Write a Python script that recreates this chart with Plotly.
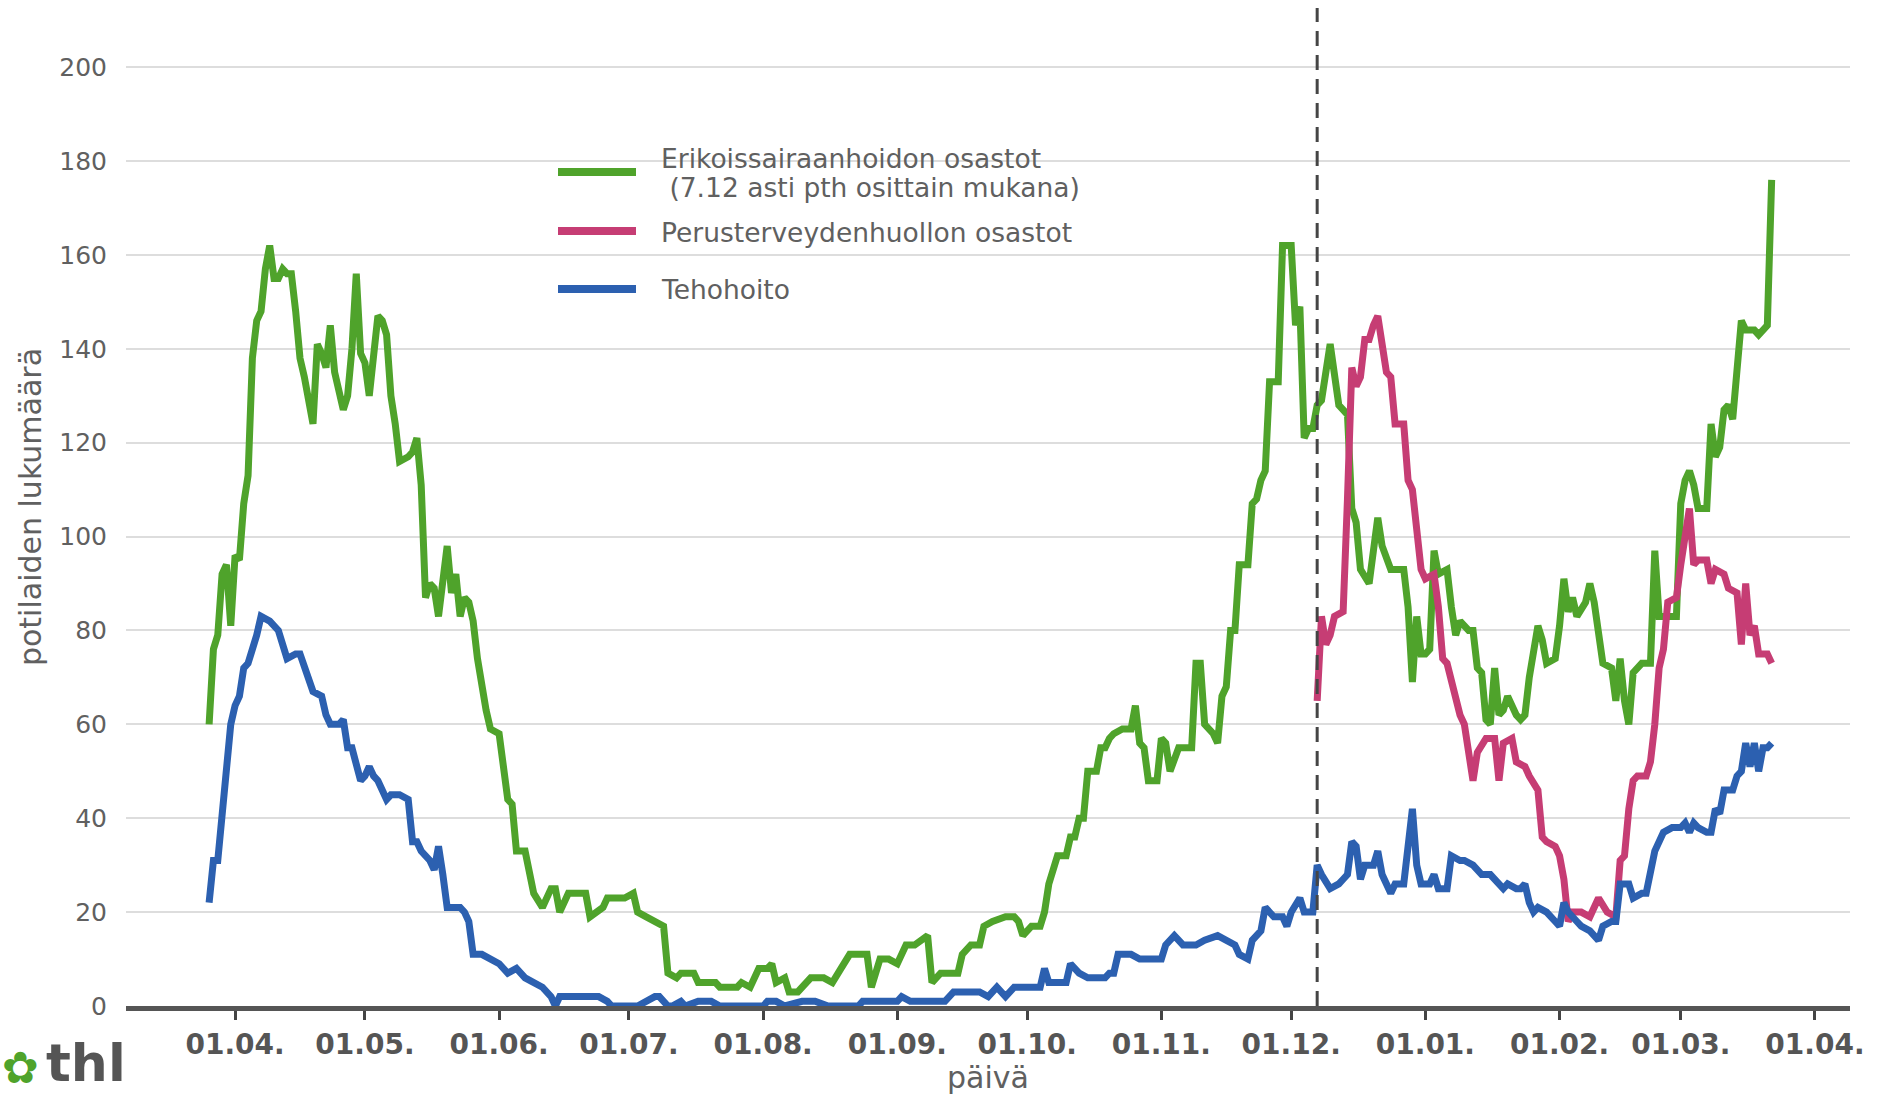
import pandas as pd
import plotly.graph_objects as go

# ---------------- data (days counted from BASE_DATE) ----------------
BASE_DATE = "2020-04-01"
CUTOFF_DATE = "2020-12-07"

series_names = [
    "Erikoissairaanhoidon osastot",
    "Perusterveydenhuollon osastot",
    "Tehohoito",
]
esh_note = "(7.12 asti pth osittain mukana)"

esh_day = [-6, -5, -4, -3, -2, -1, 0, 1, 2, 3, 4, 5, 6, 7, 8, 9, 10, 11, 12, 13, 14, 15, 16, 18, 19, 20, 21, 22, 23, 25,
           26, 27, 28, 29, 30, 31, 33, 34, 35, 36, 37, 38, 40, 41, 42, 43, 44, 45, 46, 47, 49, 50, 51, 52, 53, 54, 55, 56,
           58, 59, 61, 62, 63, 64, 65, 67, 68, 69, 71, 72, 73, 74, 75, 77, 81, 82, 85, 86, 90, 92, 93, 95, 97, 99, 100,
           102, 103, 106, 107, 111, 112, 116, 117, 119, 121, 123, 124, 125, 127, 128, 130, 133, 136, 138, 140, 142, 144,
           146, 147, 149, 151, 153, 155, 157, 160, 161, 163, 167, 168, 170, 172, 173, 175, 178, 180, 181, 182, 184, 186,
           187, 188, 190, 192, 193, 194, 195, 196, 197, 199, 200, 201, 202, 203, 205, 207, 208, 209, 210, 211, 213, 214,
           215, 216, 218, 221, 222, 223, 224, 226, 227, 228, 229, 230, 231, 232, 234, 235, 236, 237, 238, 239, 241, 242,
           244, 245, 246, 247, 248, 249, 250, 251, 253, 255, 256, 257, 258, 259, 260, 262, 263, 264, 265, 267, 270, 271,
           272, 273, 274, 275, 276, 277, 278, 280, 281, 282, 283, 285, 286, 287, 288, 289, 290, 291, 292, 293, 294, 296,
           297, 298, 299, 301, 302, 303, 305, 306, 307, 308, 309, 310, 312, 313, 314, 315, 316, 318, 319, 320, 321, 322,
           323, 325, 327, 328, 329, 331, 333, 334, 335, 336, 337, 338, 340, 341, 342, 343, 344, 345, 346, 348, 349, 351,
           352, 353, 354, 355]
esh_count = [60, 76, 79, 92, 94, 81, 96, 95, 107, 113, 138, 146, 148, 157, 162, 155, 155, 157, 156, 156, 148, 138, 134,
             124, 141, 139, 136, 145, 135, 127, 130, 140, 156, 139, 137, 130, 147, 146, 143, 130, 124, 116, 117, 118, 121,
             111, 87, 90, 89, 83, 98, 88, 92, 83, 87, 86, 82, 74, 63, 59, 58, 50, 44, 43, 33, 33, 28, 24, 21, 23, 25, 25,
             20, 24, 24, 19, 21, 23, 23, 24, 20, 19, 18, 17, 7, 6, 7, 7, 5, 5, 4, 4, 5, 4, 8, 8, 9, 5, 6, 3, 3, 6, 6, 5, 8,
             11, 11, 11, 4, 10, 10, 9, 13, 13, 15, 5, 7, 7, 11, 13, 13, 17, 18, 19, 19, 18, 15, 17, 17, 20, 26, 32, 32, 36,
             36, 40, 40, 50, 50, 55, 55, 57, 58, 59, 59, 64, 56, 55, 48, 48, 57, 56, 50, 55, 55, 73, 73, 60, 58, 56, 66, 68,
             80, 80, 94, 94, 107, 108, 112, 114, 133, 133, 162, 162, 145, 149, 121, 123, 123, 128, 129, 141, 128, 127, 126,
             106, 103, 93, 90, 97, 104, 98, 93, 93, 85, 69, 83, 75, 75, 76, 97, 92, 93, 85, 79, 82, 80, 80, 72, 71, 61, 60,
             72, 62, 63, 66, 62, 61, 62, 70, 81, 78, 73, 74, 81, 91, 84, 87, 83, 86, 90, 86, 79, 73, 72, 65, 74, 65, 60, 71,
             73, 73, 97, 83, 83, 83, 107, 112, 114, 111, 106, 106, 124, 117, 119, 127, 128, 125, 146, 144, 144, 143, 144,
             145, 176]

pth_day = [250, 251, 252, 253, 254, 256, 257, 258, 259, 260, 261, 262, 263, 264, 265, 266, 267, 268, 270, 271, 272, 274,
           275, 277, 278, 279, 280, 282, 283, 284, 285, 286, 287, 289, 291, 292, 293, 295, 296, 298, 299, 301, 302, 303,
           305, 306, 307, 308, 309, 311, 313, 315, 317, 319, 320, 321, 322, 323, 324, 326, 327, 328, 329, 330, 331, 333,
           334, 335, 336, 337, 338, 340, 341, 342, 344, 345, 347, 348, 349, 350, 351, 352, 354, 355]
pth_count = [65, 83, 77, 79, 83, 84, 108, 136, 132, 134, 142, 142, 145, 147, 141, 135, 134, 124, 124, 112, 110, 93, 91,
             92, 85, 74, 73, 66, 62, 60, 54, 48, 54, 57, 57, 48, 56, 57, 52, 51, 49, 46, 36, 35, 34, 32, 27, 18, 20, 20,
             19, 23, 20, 19, 31, 32, 42, 48, 49, 49, 52, 60, 72, 76, 86, 87, 94, 100, 106, 94, 95, 95, 90, 93, 92, 89, 88,
             77, 90, 79, 81, 75, 75, 73]

icu_day = [-6, -5, -4, -3, -2, -1, 0, 1, 2, 3, 5, 6, 8, 9, 10, 12, 14, 15, 17, 18, 20, 21, 22, 24, 25, 26, 27, 29, 30,
           31, 32, 33, 35, 36, 38, 40, 41, 42, 43, 45, 46, 47, 48, 49, 52, 53, 54, 55, 57, 59, 61, 63, 65, 67, 69, 71,
           73, 74, 75, 84, 86, 87, 93, 95, 97, 98, 100, 101, 103, 104, 107, 110, 112, 122, 123, 125, 127, 131, 134, 137,
           144, 145, 153, 154, 156, 164, 166, 172, 174, 176, 178, 180, 186, 187, 188, 192, 193, 195, 197, 201, 202, 203,
           204, 207, 209, 214, 215, 217, 219, 222, 224, 227, 229, 231, 232, 234, 235, 237, 238, 240, 242, 243, 244, 246,
           247, 249, 250, 251, 253, 255, 256, 257, 258, 259, 260, 261, 263, 264, 265, 267, 268, 270, 272, 273, 274, 276,
           277, 278, 280, 281, 283, 284, 286, 288, 290, 291, 293, 294, 296, 297, 298, 299, 300, 301, 303, 305, 306, 307,
           308, 310, 311, 313, 315, 316, 318, 319, 320, 322, 323, 325, 326, 328, 329, 330, 332, 334, 335, 336, 337, 338,
           340, 341, 342, 343, 344, 346, 347, 348, 349, 350, 351, 352, 353, 354, 355]
icu_count = [22, 31, 31, 42, 50, 60, 64, 66, 72, 73, 79, 83, 82, 81, 80, 74, 75, 75, 70, 67, 66, 62, 60, 60, 61, 55, 55,
             48, 49, 51, 49, 48, 44, 45, 45, 44, 35, 35, 33, 31, 29, 34, 28, 21, 21, 20, 18, 11, 11, 10, 9, 7, 8, 6, 5, 4,
             2, 0, 2, 2, 1, 0, 0, 1, 2, 2, 0, 0, 1, 0, 1, 1, 0, 0, 1, 1, 0, 1, 1, 0, 0, 1, 1, 2, 1, 1, 3, 3, 2, 4, 2, 4, 4,
             8, 5, 5, 9, 7, 6, 6, 7, 7, 11, 11, 10, 10, 13, 15, 13, 13, 14, 15, 14, 13, 11, 10, 14, 16, 21, 19, 19, 17, 20,
             23, 20, 20, 30, 28, 25, 26, 27, 28, 35, 34, 27, 30, 30, 33, 28, 24, 26, 26, 42, 30, 26, 26, 28, 25, 25, 32,
             31, 31, 30, 28, 28, 27, 25, 26, 25, 25, 26, 22, 20, 21, 20, 18, 17, 22, 20, 18, 17, 16, 14, 17, 18, 18, 26,
             26, 23, 24, 24, 33, 35, 37, 38, 38, 39, 37, 39, 38, 37, 37, 42, 41, 46, 46, 49, 50, 56, 51, 56, 50, 55, 55,
             56]

y_ticks = [0, 20, 40, 60, 80, 100, 120, 140, 160, 180, 200]

# ---------------- styling ----------------
GREEN = "#4fa32b"
PINK = "#c63d74"
BLUE = "#2c60b0"
TEXT = "#606060"
FONT = "DejaVu Sans"

W, H = 1881, 1095
ML, MR, MT, MB = 126, 31, 8, 89
PW, PH = W - ML - MR, H - MT - MB


def to_dates(days):
    return pd.Timestamp(BASE_DATE) + pd.to_timedelta(days, unit="D")


def px(xp):
    return (xp - ML) / PW


def py(yp):
    return (H - MB - yp) / PH


base = pd.Timestamp(BASE_DATE)
x_range = [base - pd.Timedelta(days=25.2), base + pd.Timedelta(days=373.1)]

fig = go.Figure()
for days, vals, color, name in [
    (esh_day, esh_count, GREEN, series_names[0]),
    (pth_day, pth_count, PINK, series_names[1]),
    (icu_day, icu_count, BLUE, series_names[2]),
]:
    fig.add_trace(go.Scatter(x=to_dates(days), y=vals, mode="lines", name=name,
                             line=dict(color=color, width=7), showlegend=False))

shapes = [
    dict(type="line", xref="x", yref="paper", x0=CUTOFF_DATE, x1=CUTOFF_DATE, y0=0, y1=1,
         line=dict(color="#454545", width=3, dash="15px,9px"), layer="above"),
    # legend background
    dict(type="rect", xref="paper", yref="paper", x0=px(526), x1=px(1105), y0=py(335), y1=py(112),
         fillcolor="white", line=dict(width=0), layer="between"),
]
annotations = []
legend_rows = [(GREEN, 172, 158), (PINK, 231, 232), (BLUE, 289, 290)]
for (color, ly, ty), name in zip(legend_rows, series_names):
    shapes.append(dict(type="line", xref="paper", yref="paper", x0=px(558), x1=px(636), y0=py(ly), y1=py(ly),
                       line=dict(color=color, width=8), layer="above"))
    annotations.append(dict(xref="paper", yref="paper", x=px(659), y=py(ty), xanchor="left", yanchor="middle",
                            text=name, showarrow=False, font=dict(family=FONT, size=26.5, color=TEXT)))
annotations.append(dict(xref="paper", yref="paper", x=px(659), y=py(188), xanchor="left", yanchor="middle",
                        text="\u00a0" + esh_note, showarrow=False, font=dict(family=FONT, size=26.5, color=TEXT)))

# logo (kept fully inside the page)
annotations.append(dict(xref="paper", yref="paper", x=px(44), y=py(1095), xanchor="left", yanchor="bottom",
                        text="<b>thl</b>", showarrow=False, font=dict(family=FONT, size=52, color="#555555")))
annotations.append(dict(xref="paper", yref="paper", x=px(0), y=py(1095), xanchor="left", yanchor="bottom",
                        text="\u273f", showarrow=False, font=dict(family=FONT, size=44, color=GREEN)))

fig.update_layout(
    width=W, height=H,
    margin=dict(l=ML, r=MR, t=MT, b=MB, pad=0),
    paper_bgcolor="white", plot_bgcolor="white",
    font=dict(family=FONT, color=TEXT),
    shapes=shapes, annotations=annotations,
    xaxis=dict(
        type="date", range=x_range, tick0=BASE_DATE, dtick="M1", tickformat="%d.%m.",
        ticks="outside", ticklen=9, tickwidth=3, tickcolor="#444444",
        showline=True, linecolor="#555555", linewidth=5, showgrid=False, zeroline=False,
        tickfont=dict(family=FONT, size=28, color="#555555", weight="bold"),
        title=dict(text="päivä", font=dict(family=FONT, size=30, color=TEXT), standoff=6),
    ),
    yaxis=dict(
        range=[0, 212.6], tickmode="array", tickvals=y_ticks, ticktext=[str(v) for v in y_ticks],
        showgrid=True, gridcolor="#dddddd", gridwidth=2, zeroline=False, showline=False,
        ticks="", ticklabelstandoff=18,
        tickfont=dict(family=FONT, size=25, color=TEXT),
        title=dict(text="potilaiden lukumäärä", font=dict(family=FONT, size=30, color=TEXT), standoff=8),
    ),
)

fig.write_html("out.html", config={"displayModeBar": False},
               post_script="document.body.style.margin='0';document.body.style.overflow='hidden';")
